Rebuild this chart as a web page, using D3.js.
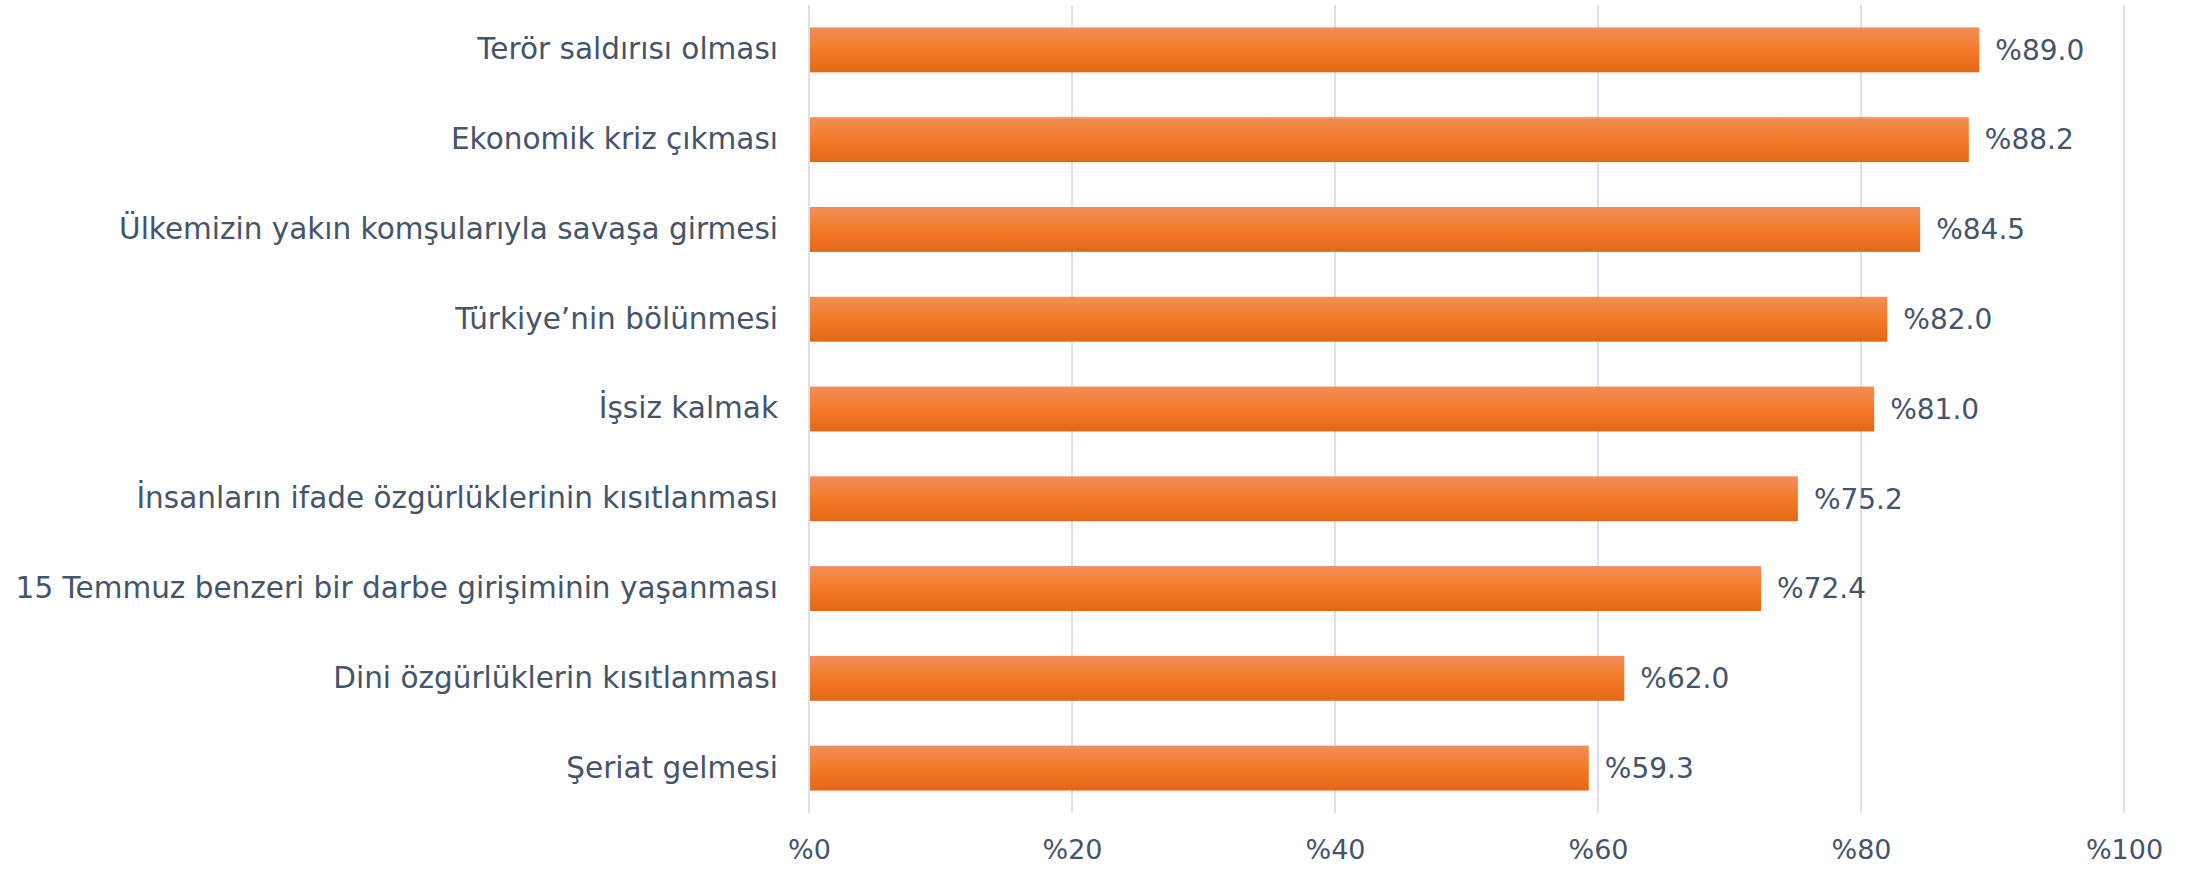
<!DOCTYPE html>
<html lang="tr">
<head>
<meta charset="UTF-8" />
<script src="https://d3js.org/d3.v7.min.js"></script>
<style>
  html, body { margin: 0; padding: 0; background: #fff; }
  svg { display: block; font-family: "DejaVu Sans", sans-serif; }
</style>
</head>
<body>
<svg id="chart"></svg>
<script>
// categories top to bottom and their values (percent)
var categories = [
  "Terör saldırısı olması",
  "Ekonomik kriz çıkması",
  "Ülkemizin yakın komşularıyla savaşa girmesi",
  "Türkiye’nin bölünmesi",
  "İşsiz kalmak",
  "İnsanların ifade özgürlüklerinin kısıtlanması",
  "15 Temmuz benzeri bir darbe girişiminin yaşanması",
  "Dini özgürlüklerin kısıtlanması",
  "Şeriat gelmesi"
];
var values = [89.0, 88.2, 84.5, 82.0, 81.0, 75.2, 72.4, 62.0, 59.3];
var ticks = [0, 20, 40, 60, 80, 100];

var W = 2190, H = 871;
var margin = {top: 5, right: 66, bottom: 58, left: 809};
var width = W - margin.left - margin.right,
    height = H - margin.top - margin.bottom;
var textCol = "#44546A";

var svg = d3.select("#chart").attr("width", W).attr("height", H);

// bar gradient (light top, dark bottom)
var grad = svg.append("defs").append("linearGradient")
    .attr("id", "barGrad").attr("x1", 0).attr("y1", 0).attr("x2", 0).attr("y2", 1);
grad.append("stop").attr("offset", "0%").attr("stop-color", "#F08E5A");
grad.append("stop").attr("offset", "45%").attr("stop-color", "#F47C2C");
grad.append("stop").attr("offset", "100%").attr("stop-color", "#E36815");

var g = svg.append("g").attr("transform", "translate(" + margin.left + "," + margin.top + ")");

var x = d3.scaleLinear().domain([0, 100]).range([0, width]);
var y = d3.scaleBand().domain(categories).range([0, height]).paddingInner(0.5).paddingOuter(0.25);

// vertical gridlines
g.append("g").selectAll("line")
  .data(ticks)
  .join("line")
    .attr("x1", d => x(d)).attr("x2", d => x(d))
    .attr("y1", 0).attr("y2", height)
    .attr("stroke", "#DCE1E9").attr("stroke-width", 2);

// x axis labels
var xAxis = g.append("g")
    .attr("transform", "translate(0," + height + ")")
    .call(d3.axisBottom(x).tickValues(ticks).tickSize(0).tickPadding(27).tickFormat(d => "%" + d));
xAxis.select(".domain").remove();
xAxis.selectAll("text").attr("fill", textCol).style("font-size", "27px")
    .style("font-family", "'DejaVu Sans', sans-serif");

// y axis labels
var yAxis = g.append("g")
    .call(d3.axisLeft(y).tickSize(0).tickPadding(31));
yAxis.select(".domain").remove();
yAxis.selectAll("text").attr("fill", textCol).style("font-size", "29.5px")
    .style("font-family", "'DejaVu Sans', sans-serif");

// bars
g.append("g").selectAll("rect")
  .data(values)
  .join("rect")
    .attr("x", x(0) + 1)
    .attr("y", (d, i) => y(categories[i]))
    .attr("width", d => x(d) - x(0) - 1)
    .attr("height", y.bandwidth())
    .attr("fill", "url(#barGrad)");

// value labels
g.append("g").selectAll("text")
  .data(values)
  .join("text")
    .attr("x", d => x(d) + 16)
    .attr("y", (d, i) => y(categories[i]) + y.bandwidth() / 2)
    .attr("dy", "0.35em")
    .attr("fill", textCol)
    .style("font-size", "28px")
    .text(d => "%" + d.toFixed(1));
</script>
</body>
</html>
